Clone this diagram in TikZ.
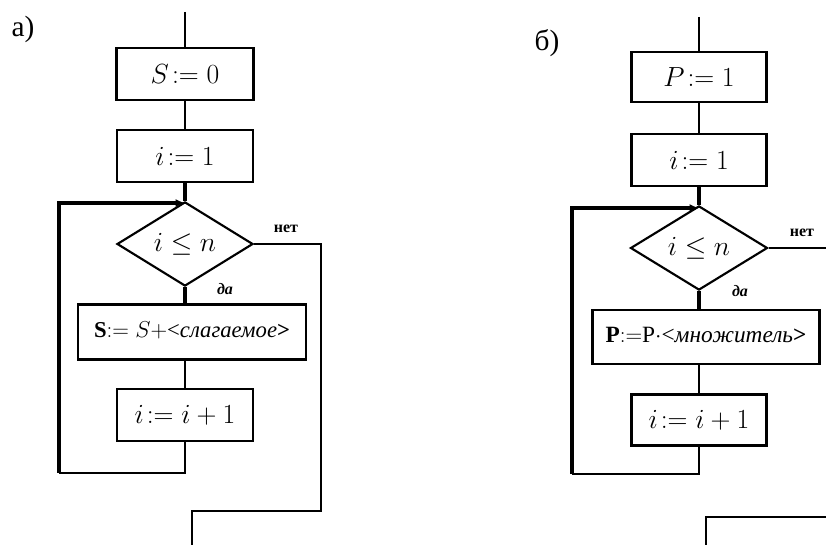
\documentclass[tikz,border=0pt]{standalone}
\usepackage{fontspec}
\setmainfont{Liberation Serif}
\usetikzlibrary{shapes.geometric,arrows.meta}
\begin{document}
\begin{tikzpicture}[x=0.75pt,y=-0.75pt,
  box/.style={draw,line width=1.6pt,rectangle,inner sep=0pt,font=\fontsize{20}{24}\selectfont},
  dec/.style={draw,line width=1.6pt,diamond,inner sep=0pt,font=\fontsize{20}{24}\selectfont},
  ln/.style={line width=1.7pt},
  lp/.style={line width=2.4pt},
  lbl/.style={font=\fontsize{22}{26}\selectfont,inner sep=0pt},
  tag/.style={font=\bfseries\fontsize{12}{14}\selectfont,inner sep=0pt},
  arr/.style={-{Latex[length=7pt,width=6pt]}}]
\useasboundingbox (0,0) rectangle (826,545);

% ---------- a) ----------
\node[lbl] (labA) at (23,29) {а)};
\coordinate (topA) at (185,12);
\node[box,minimum width=102.75pt,minimum height=39pt] (S0) at (185,74) {$S\!:=0$};
\node[box,minimum width=102pt,minimum height=39pt] (iA) at (185,156) {$i\!:=1$};
\node[dec,minimum width=102pt,minimum height=46.5pt] (dA) at (185,244) {$i\leq n$};
\node[box,minimum width=171pt,minimum height=41.25pt,font=\fontsize{17}{20}\selectfont] (bigA) at (192,332)
  {\raisebox{4pt}{{\bfseries S}$:=S+$<\textit{слагаемое}{\bfseries >}}};
\node[box,minimum width=102pt,minimum height=39pt] (incA) at (185,415) {$i\!:=i+1$};
\node[tag] (noA) at (286,229) {нет};
\node[tag,font=\bfseries\itshape\fontsize{12}{14}\selectfont] (yesA) at (225,289) {да};
\coordinate (joinA) at (185,203);
\coordinate (loopA) at (59,473);
\coordinate (noA1) at (321,511);
\coordinate (endA) at (192,545);

\draw[ln] (topA) -- (S0.north);
\draw[ln] (S0.south) -- (iA.north);
\draw[lp] (iA.south) -- (dA.north);
\draw[lp] (dA.south) -- (dA.south |- bigA.north);
\draw[ln] (bigA.south -| incA.north) -- (incA.north);
\draw[ln] (incA.south) |- (loopA);
\draw[lp,arr] (loopA) |- (joinA);
\draw[ln] (dA.east) -| (noA1) -| (endA);

% ---------- б) ----------
\node[lbl] (labB) at (547,43) {б)};
\coordinate (topB) at (699,17);
\node[box,minimum width=101.25pt,minimum height=37.5pt] (P1) at (699,77) {$P\!:=1$};
\node[box,minimum width=101.25pt,minimum height=39pt] (iB) at (699,160) {$i\!:=1$};
\node[dec,minimum width=102.75pt,minimum height=46.5pt] (dB) at (699,248) {$i\leq n$};
\node[box,minimum width=170.25pt,minimum height=40.5pt,font=\fontsize{17.5}{20}\selectfont] (bigB) at (706,337)
  {\raisebox{3pt}{{\bfseries P}$:=$P$\cdot$<\textit{множитель}{\bfseries >}}};
\node[box,minimum width=101.25pt,minimum height=38.25pt] (incB) at (699,420) {$i\!:=i+1$};
\node[tag] (noB) at (802,233) {нет};
\node[tag,font=\bfseries\itshape\fontsize{12}{14}\selectfont] (yesB) at (740,291) {да};
\coordinate (joinB) at (699,208);
\coordinate (loopB) at (572,474);
\coordinate (noB1) at (826,248);
\coordinate (botB1) at (826,517);
\coordinate (botB2) at (706,545);

\draw[ln] (topB) -- (P1.north);
\draw[ln] (P1.south) -- (iB.north);
\draw[lp] (iB.south) -- (dB.north);
\draw[lp] (dB.south) -- (dB.south |- bigB.north);
\draw[ln] (bigB.south -| incB.north) -- (incB.north);
\draw[ln] (incB.south) |- (loopB);
\draw[lp,arr] (loopB) |- (joinB);
\draw[ln] (dB.east) -- (noB1);
\draw[ln] (botB1) -| (botB2);
\end{tikzpicture}
\end{document}
